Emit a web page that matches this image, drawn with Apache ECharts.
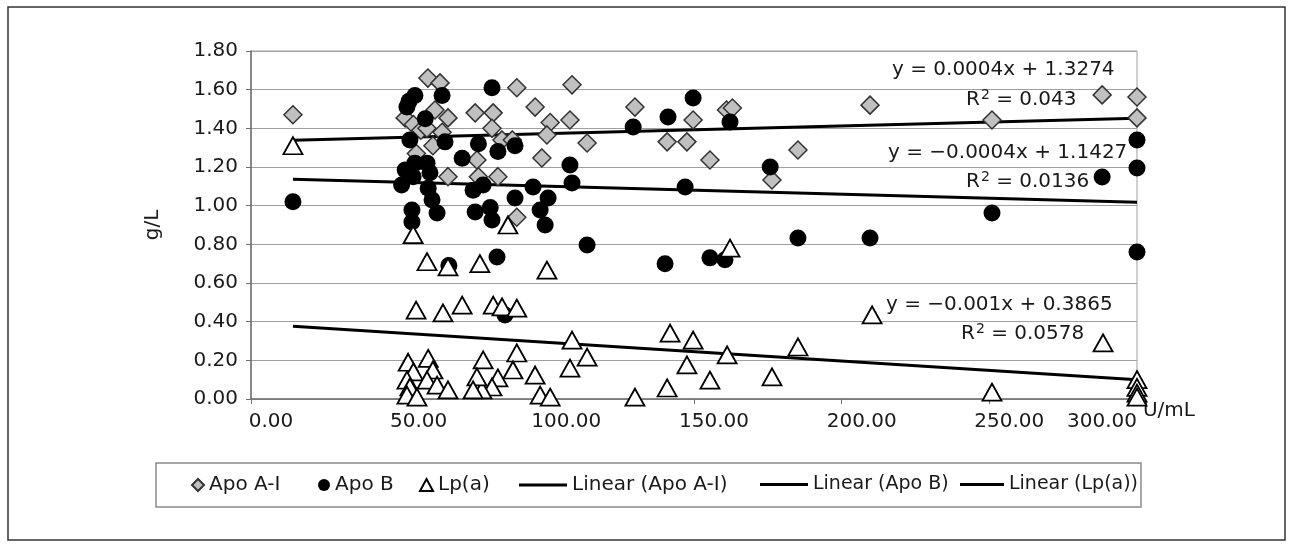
<!DOCTYPE html>
<html>
<head>
<meta charset="utf-8">
<script src="https://cdn.jsdelivr.net/npm/echarts@6/dist/echarts.min.js"></script>
<style>
html,body{margin:0;padding:0;background:#fff;}
#chart{width:1293px;height:550px;}
</style>
</head>
<body>
<div id="chart"></div>
<script>
// ---- data ----
var seriesNames = ['Apo A-I', 'Apo B', 'Lp(a)'];
var trendNames = ['Linear (Apo A-I)', 'Linear (Apo B)', 'Linear (Lp(a))'];

var apoAI = [[14.2,1.47],[59.9,1.66],[64.0,1.635],[62.3,1.495],[75.9,1.48],[82.0,1.48],[66.7,1.454],[52.2,1.454],[55.0,1.42],[57.5,1.39],[59.6,1.40],[64.7,1.38],[81.6,1.40],[61.6,1.31],[85.0,1.34],[88.5,1.34],[76.5,1.236],[56.0,1.27],[66.7,1.15],[83.6,1.15],[77.0,1.15],[90.0,1.61],[108.7,1.625],[96.2,1.51],[130.0,1.51],[101.3,1.43],[108.0,1.443],[100.2,1.366],[113.8,1.324],[98.5,1.247],[90.0,0.94],[149.7,1.443],[161.0,1.495],[163.0,1.505],[140.9,1.33],[147.6,1.33],[185.2,1.288],[155.4,1.236],[176.4,1.133],[209.6,1.52],[288.2,1.573],[300,1.562],[250.9,1.443],[300,1.454]];

var apoB = [[14.2,1.02],[81.6,1.61],[55.5,1.57],[64.7,1.57],[52.8,1.51],[53.5,1.54],[59.0,1.45],[53.8,1.34],[65.7,1.33],[77.0,1.32],[83.6,1.28],[89.4,1.31],[71.5,1.245],[52.2,1.185],[55.5,1.22],[59.6,1.22],[60.6,1.17],[51.0,1.107],[54.9,1.15],[60.0,1.09],[61.3,1.03],[75.2,1.08],[78.6,1.107],[89.4,1.04],[63.0,0.962],[75.9,0.967],[81.0,0.99],[81.6,0.926],[54.5,0.978],[54.5,0.916],[129.4,1.407],[108.0,1.21],[108.7,1.117],[95.5,1.097],[100.6,1.04],[97.9,0.978],[99.6,0.90],[149.7,1.557],[141.2,1.459],[162.2,1.433],[175.8,1.20],[147.0,1.097],[113.8,0.797],[83.3,0.735],[140.2,0.70],[155.4,0.73],[160.5,0.72],[185.2,0.833],[86.0,0.435],[67.0,0.69],[300,1.34],[300,1.195],[288.2,1.148],[250.9,0.962],[209.6,0.833],[300,0.76]];

var lpa = [[14.2,1.31],[54.9,0.85],[59.6,0.71],[66.7,0.683],[77.5,0.70],[87.0,0.90],[162.2,0.78],[100.2,0.667],[55.9,0.46],[65.0,0.445],[71.5,0.486],[82.0,0.486],[85.0,0.476],[90.0,0.47],[141.9,0.341],[149.7,0.305],[108.7,0.305],[185.2,0.269],[90.0,0.238],[113.8,0.217],[161.2,0.228],[78.6,0.202],[147.6,0.176],[88.7,0.15],[108.0,0.16],[96.2,0.124],[176.4,0.114],[83.6,0.109],[155.4,0.098],[81.6,0.062],[78.2,0.047],[97.9,0.02],[101.3,0.01],[130.0,0.01],[140.9,0.057],[53.2,0.19],[60.0,0.21],[55.0,0.14],[61.6,0.15],[76.5,0.114],[52.8,0.098],[59.6,0.098],[63.0,0.072],[66.7,0.047],[53.8,0.062],[52.8,0.02],[56.2,0.01],[75.2,0.047],[210.3,0.435],[288.5,0.29],[250.9,0.036],[300,0.10],[300,0.06],[300,0.03],[300,0.01]];

var trendAI = [[14.2,1.338],[300,1.452]];
var trendB = [[14.2,1.137],[300,1.018]];
var trendLpa = [[14.2,0.376],[300,0.10]];

var eqAI = ['y = 0.0004x + 1.3274', '0.043'];
var eqB = ['y = \u22120.0004x + 1.1427', '0.0136'];
var eqLpa = ['y = \u22120.001x + 0.3865', '0.0578'];

var xMin = 0, xMax = 300, xStep = 50;
var yMin = 0, yMax = 1.8, yStep = 0.2;

// ---- chart ----
var FONT = 'DejaVu Sans';
var TXT = '#1a1a1a';
var chart = echarts.init(document.getElementById('chart'), null, {renderer: 'canvas'});

function r2Text(x, y, val) {
  return {
    type: 'text', left: x, top: y, z: 50,
    style: {
      text: '{r|R}{s|2}{r| = ' + val + '}',
      rich: {
        r: {fontFamily: FONT, fontSize: 20, fill: TXT, verticalAlign: 'bottom'},
        s: {fontFamily: FONT, fontSize: 14, fill: TXT, verticalAlign: 'bottom', padding: [0, 0, 8, 1]}
      }
    }
  };
}
function eqText(x, y, t) {
  return {type: 'text', left: x, top: y, z: 50,
    style: {text: t, fontFamily: FONT, fontSize: 20, fill: TXT}};
}

function oneLegend(name, left, w, h, icon, fs) {
  var d = icon ? [{name: name, icon: icon}] : [name];
  return {
    data: d, left: left, top: 475, padding: 0, orient: 'horizontal',
    itemWidth: w, itemHeight: h, itemGap: 0, selectedMode: false,
    textStyle: {fontFamily: FONT, fontSize: fs || 20, color: TXT, padding: [0, 0, 0, 0]}
  };
}

var option = {
  backgroundColor: '#fff',
  animation: false,
  grid: {left: 251, right: 156, top: 51, bottom: 151, show: true, borderColor: '#a0a0a0', borderWidth: 1},
  xAxis: {
    type: 'value', min: xMin, max: xMax, interval: xStep,
    name: 'U/mL', nameLocation: 'end', nameGap: 4,
    nameTextStyle: {fontFamily: FONT, fontSize: 20, color: TXT, align: 'left', verticalAlign: 'top', padding: [2, 0, 0, 0]},
    axisLine: {show: true, onZero: false, lineStyle: {color: '#707070', width: 1.5}},
    axisTick: {show: true, inside: false, length: 5, lineStyle: {color: '#707070'}},
    splitLine: {show: false},
    axisLabel: {
      margin: 13, color: TXT, fontFamily: FONT, fontSize: 20,
      formatter: function (v) {
        return v === xMax ? '{e|' + v.toFixed(2) + '}' : '{n|' + v.toFixed(2) + '}';
      },
      rich: {
        n: {fontFamily: FONT, fontSize: 20, color: TXT, padding: [0, 0, 0, 40]},
        e: {fontFamily: FONT, fontSize: 20, color: TXT, padding: [0, 70, 0, 0]}
      }
    }
  },
  yAxis: {
    type: 'value', min: yMin, max: yMax, interval: yStep,
    name: 'g/L', nameLocation: 'middle', nameGap: 88, nameRotate: 90,
    nameTextStyle: {fontFamily: FONT, fontSize: 20, color: TXT},
    axisLine: {show: true, onZero: false, lineStyle: {color: '#707070', width: 1.5}},
    axisTick: {show: true, inside: false, length: 5, lineStyle: {color: '#707070'}},
    splitLine: {show: true, lineStyle: {color: '#a0a0a0', width: 1.2}},
    axisLabel: {margin: 13, color: TXT, fontFamily: FONT, fontSize: 20, formatter: function (v) { return v.toFixed(2); }}
  },
  legend: [
    oneLegend(seriesNames[0], 191, 12, 12),
    oneLegend(seriesNames[1], 318, 12, 12),
    oneLegend(seriesNames[2], 419, 13, 12),
    oneLegend(trendNames[0], 519, 48, 3, 'rect', 20),
    oneLegend(trendNames[1], 760, 48, 3, 'rect', 19),
    oneLegend(trendNames[2], 960, 44, 3, 'rect', 19)
  ],
  graphic: [
    {type: 'rect', shape: {x: 8, y: 7, width: 1277, height: 533}, style: {fill: 'none', stroke: '#333', lineWidth: 1.5}, z: 0},
    {type: 'rect', shape: {x: 156, y: 463, width: 985, height: 44}, style: {fill: 'none', stroke: '#8a8a8a', lineWidth: 1.5}, z: 0},
    eqText(892, 60, eqAI[0]),
    r2Text(966, 88, eqAI[1]),
    eqText(888, 143, eqB[0]),
    r2Text(966, 170, eqB[1]),
    eqText(886, 295, eqLpa[0]),
    r2Text(961, 322, eqLpa[1])
  ],
  series: [
    {name: trendNames[0], type: 'line', data: trendAI, showSymbol: false, symbol: 'none', z: 1,
     lineStyle: {color: '#000', width: 3}, itemStyle: {color: '#000'}},
    {name: trendNames[1], type: 'line', data: trendB, showSymbol: false, symbol: 'none', z: 1,
     lineStyle: {color: '#000', width: 3}, itemStyle: {color: '#000'}},
    {name: trendNames[2], type: 'line', data: trendLpa, showSymbol: false, symbol: 'none', z: 1,
     lineStyle: {color: '#000', width: 3}, itemStyle: {color: '#000'}},
    {name: seriesNames[0], type: 'scatter', data: apoAI, symbol: 'diamond', symbolSize: [18, 18], z: 2,
     itemStyle: {color: '#c0c0c0', borderColor: '#333', borderWidth: 1.5, opacity: 1}},
    {name: seriesNames[1], type: 'scatter', data: apoB, symbol: 'circle', symbolSize: 17, z: 3,
     itemStyle: {color: '#000', borderColor: '#000', borderWidth: 0, opacity: 1}},
    {name: seriesNames[2], type: 'scatter', data: lpa, symbol: 'triangle', symbolSize: [19, 17], z: 4,
     itemStyle: {color: '#fff', borderColor: '#000', borderWidth: 1.8, opacity: 1}}
  ]
};
chart.setOption(option);
</script>
</body>
</html>
